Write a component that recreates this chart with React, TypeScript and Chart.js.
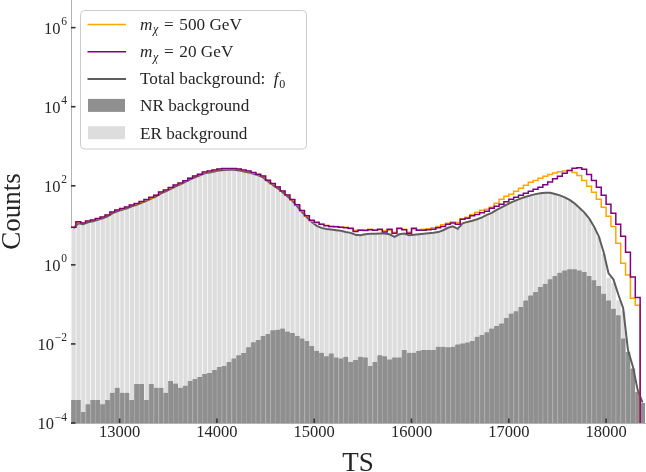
import { useEffect, useRef } from "react";
import { Chart, registerables } from "chart.js";

Chart.register(...registerables);

// Binning of the TS histograms and axis limits
const BIN_START = 12500;
const BIN_WIDTH = 50;
const X_MIN = 12500;
const X_MAX = 18400;
const Y_MIN = 1e-4;
const Y_MAX = 5e6;

const X_TICKS = [13000, 14000, 15000, 16000, 17000, 18000];
const Y_TICK_EXPONENTS = [-4, -2, 0, 2, 4, 6];

// Counts per bin (118 bins of width 50 starting at TS = 12500)
const totalBackground = [
  8.4, 11.2, 10.6, 11.9, 12.6, 13.8, 15.0, 16.9, 20.1, 22.6,
  24.6, 26.9, 30.2, 32.9, 37.0, 41.6, 47.2, 54.0, 64.4, 72.3,
  83.7, 96.8, 108.7, 125, 145, 163, 183, 206, 218, 231,
  245, 252, 255, 255, 245, 231, 218, 200, 183, 163,
  129, 105.6, 86.2, 68.2, 54.0, 41.6, 30.2, 21.7, 15.9, 12.1,
  9.7, 8.6, 8.1, 7.8, 7.5, 7.25, 6.8, 6.45, 5.75, 5.58,
  5.92, 6.1, 6.1, 6.2, 6.2, 5.92, 5.1, 5.92, 6.2, 5.58,
  5.75, 5.92, 6.1, 6.27, 6.45, 6.75, 7.5, 8.65, 9.4, 8.15,
  11.2, 12.2, 13.0, 14.2, 15.9, 18.4, 20.7, 24.6, 28.5, 32.9,
  38.1, 42.8, 48.1, 53.0, 57.3, 61.5, 64.4, 67.0, 66.2, 62.0,
  57.3, 51.0, 44.0, 35.9, 27.7, 21.3, 15.0, 9.4, 5.27, 2.08,
  0.61, 0.43, 0.18, 0.081, 0.007, 0.0027, 0.00068, 0.00033,
];

const erBackground = [
  8.4, 11.2, 10.6, 11.9, 12.6, 13.8, 15.0, 16.9, 20.1, 22.6,
  24.6, 26.9, 30.2, 32.9, 37.0, 41.6, 47.2, 54.0, 64.4, 72.3,
  83.7, 96.8, 108.7, 125, 145, 163, 183, 206, 218, 231,
  245, 252, 255, 255, 245, 231, 218, 200, 183, 163,
  129, 105.6, 86.2, 68.2, 54.0, 41.6, 30.2, 21.7, 15.9, 12.1,
  9.7, 8.6, 8.1, 7.8, 7.5, 7.25, 6.8, 6.45, 5.75, 5.58,
  5.92, 6.1, 6.1, 6.2, 6.2, 5.92, 5.1, 5.92, 6.2, 5.58,
  5.75, 5.92, 6.1, 6.27, 6.45, 6.75, 7.5, 8.65, 9.4, 8.15,
  11.2, 12.2, 13.0, 14.2, 15.9, 18.4, 20.7, 24.6, 28.5, 32.9,
  38.1, 42.8, 48.0, 52.9, 57.1, 61.3, 64.1, 66.7, 65.8, 61.5,
  56.7, 50.3, 43.2, 35.1, 27.0, 20.6, 14.5, 9.0, 4.98, 1.89,
  0.48, 0.35, 0.127, 0.067, 0.0007, 0.0003, 0.00006, 0.00001,
];

const nrBackground = [
  3.8e-4, 3.8e-4, 1.9e-4, 3.0e-4, 3.8e-4, 3.8e-4, 3.0e-4, 3.8e-4, 5.8e-4, 7.8e-4,
  5.8e-4, 5.8e-4, 3.8e-4, 9.7e-4, 9.7e-4, 3.8e-4, 9.7e-4, 7.8e-4, 7.8e-4, 5.8e-4,
  1.15e-3, 1.0e-3, 7.8e-4, 8.8e-4, 1.15e-3, 1.3e-3, 1.45e-3, 1.73e-3, 1.83e-3, 2.18e-3,
  2.6e-3, 2.75e-3, 3.5e-3, 4.3e-3, 5.2e-3, 5.9e-3, 8.3e-3, 1.11e-2, 1.25e-2, 1.58e-2,
  1.77e-2, 2.23e-2, 2.3e-2, 2.45e-2, 2.05e-2, 1.9e-2, 1.58e-2, 1.38e-2, 1.18e-2, 8.8e-3,
  6.7e-3, 5.96e-3, 4.9e-3, 5.75e-3, 4.55e-3, 4.3e-3, 4.75e-3, 3.5e-3, 3.9e-3, 4.75e-3,
  4.55e-3, 2.75e-3, 3.5e-3, 5.2e-3, 4.9e-3, 4.05e-3, 4.55e-3, 4.55e-3, 7.0e-3, 5.96e-3,
  5.96e-3, 6.7e-3, 7.0e-3, 7.0e-3, 7.0e-3, 8.5e-3, 8.5e-3, 8.3e-3, 8.5e-3, 9.7e-3,
  1.03e-2, 1.09e-2, 1.18e-2, 1.52e-2, 1.67e-2, 1.96e-2, 2.45e-2, 2.85e-2, 3.3e-2, 4.55e-2,
  5.85e-2, 6.7e-2, 8.6e-2, 0.126, 0.169, 0.205, 0.274, 0.333, 0.43, 0.52,
  0.635, 0.725, 0.77, 0.77, 0.725, 0.66, 0.52, 0.405, 0.29, 0.187,
  0.126, 0.078, 0.053, 0.0138, 0.0063, 0.0024, 6.2e-4, 3.2e-4,
];

// Background plus signal, 117 bins (signal histograms stop at TS = 18350)
const signal500 = [
  8.9, 11.8, 11.3, 12.6, 13.4, 14.6, 15.9, 17.9, 21.3, 24.0,
  26.1, 28.5, 32.0, 34.9, 39.2, 44.1, 50.0, 57.2, 68.3, 76.6,
  88.7, 103, 115, 133, 154, 173, 194, 218, 231, 245,
  260, 267, 270, 270, 260, 245, 231, 212, 194, 173,
  137, 112, 91.4, 72.3, 57.2, 44.1, 32.0, 23.0, 16.9, 12.9,
  11.5, 10.6, 10.0, 9.4, 9.4, 8.9, 8.9, 8.15, 7.5, 7.7,
  7.25, 7.9, 7.5, 7.7, 7.25, 7.5, 6.65, 8.15, 7.9, 6.65,
  7.9, 7.7, 7.9, 8.15, 8.65, 9.4, 10.3, 11.2, 12.2, 11.8,
  14.6, 15.9, 18.9, 21.3, 23.9, 25.4, 28.5, 35.9, 45.4, 54.0,
  60.7, 72.3, 86.2, 102.6, 122, 137, 154, 173, 194, 212,
  225, 238, 245, 218, 183, 137, 96.8, 68.2, 45.4, 28.5,
  16.9, 9.4, 3.5, 1.1, 0.55, 0.144, 0.095,
];

const signal20 = [
  9.0, 12.3, 11.4, 12.8, 13.7, 14.9, 16.3, 18.2, 21.8, 24.3,
  26.8, 29.0, 32.7, 35.4, 40.1, 44.8, 51.2, 58.0, 69.6, 78.0,
  90.5, 104, 117, 135, 156, 176, 197, 222, 235, 249,
  264, 272, 275, 274, 264, 249, 235, 216, 197, 176,
  139, 114, 93.5, 73.7, 58.5, 45.2, 32.9, 23.8, 17.5, 13.4,
  11.9, 10.6, 9.7, 9.4, 9.15, 8.9, 8.65, 8.4, 7.0, 7.5,
  7.5, 7.7, 7.5, 7.9, 6.8, 7.9, 6.27, 8.4, 7.7, 6.27,
  8.4, 7.5, 7.5, 7.7, 7.9, 8.65, 9.4, 10.6, 11.5, 10.6,
  14.2, 15.0, 17.4, 18.9, 20.7, 22.6, 26.9, 30.2, 33.9, 39.2,
  45.4, 51.0, 57.3, 64.4, 72.3, 81.3, 91.3, 105.6, 125, 150,
  173, 206, 245, 276, 284, 260, 194, 137, 91.3, 57.3,
  33.9, 20.1, 10.6, 5.27, 2.08, 0.49, 0.15,
];

const ORANGE = "#ffa500";
const PURPLE = "#800080";
const TOTAL_GRAY = "#5e5e5e";
const NR_FILL = "#8f8f8f";
const NR_EDGE = "#a4a4a4";
const ER_FILL = "#dddddd";
const ER_EDGE = "#f6f6f6";
const SPINE = "#b4b4b4";
const TEXT = "#262626";
const SERIF = '"Liberation Serif", "DejaVu Serif", serif';

const binEdge = (i: number) => BIN_START + BIN_WIDTH * i;
const binCenter = (i: number) => BIN_START + BIN_WIDTH * (i + 0.5);

// Outline of a step histogram: left edge of each bin, then a drop at the last edge
function stepOutline(values: number[]) {
  const pts = values.map((v, i) => ({ x: binEdge(i), y: v }));
  pts.push({ x: binEdge(values.length), y: Y_MIN });
  return pts;
}

const barPoints = (values: number[]) => values.map((v, i) => ({ x: binCenter(i), y: v }));

type Run = { text: string; italic?: boolean; sub?: boolean };
type LegendEntry = { kind: "line" | "box"; color: string; width?: number; runs: Run[] };

// math-style spacing around the equals sign
const EQ = "\u2004=\u2004";

const LEGEND_ENTRIES: LegendEntry[] = [
  { kind: "line", color: ORANGE, width: 1.5, runs: [{ text: "m", italic: true }, { text: "χ", italic: true, sub: true }, { text: `${EQ}500 GeV` }] },
  { kind: "line", color: PURPLE, width: 1.5, runs: [{ text: "m", italic: true }, { text: "χ", italic: true, sub: true }, { text: `${EQ}20 GeV` }] },
  { kind: "line", color: TOTAL_GRAY, width: 2, runs: [{ text: "Total background:  " }, { text: "f", italic: true }, { text: "0", sub: true }] },
  { kind: "box", color: NR_FILL, runs: [{ text: "NR background" }] },
  { kind: "box", color: ER_FILL, runs: [{ text: "ER background" }] },
];

function drawRuns(ctx: CanvasRenderingContext2D, runs: Run[], x: number, baseline: number, size: number) {
  let cx = x;
  for (const r of runs) {
    const fs = r.sub ? size * 0.7 : size;
    ctx.font = `${r.italic ? "italic " : ""}${fs}px ${SERIF}`;
    ctx.fillText(r.text, cx, baseline + (r.sub ? size * 0.22 : 0));
    cx += ctx.measureText(r.text).width + (r.italic && !r.sub ? 0.5 : 0);
  }
}

function roundedRect(ctx: CanvasRenderingContext2D, x: number, y: number, w: number, h: number, r: number) {
  ctx.beginPath();
  ctx.moveTo(x + r, y);
  ctx.lineTo(x + w - r, y);
  ctx.arcTo(x + w, y, x + w, y + r, r);
  ctx.lineTo(x + w, y + h - r);
  ctx.arcTo(x + w, y + h, x + w - r, y + h, r);
  ctx.lineTo(x + r, y + h);
  ctx.arcTo(x, y + h, x, y + h - r, r);
  ctx.lineTo(x, y + r);
  ctx.arcTo(x, y, x + r, y, r);
  ctx.closePath();
}

const decorations = {
  id: "histDecorations",
  afterDraw(chart: any) {
    const { ctx, chartArea, scales } = chart;
    const xs = scales.x;
    const ys = scales.y;
    ctx.save();

    // inward tick marks
    ctx.strokeStyle = "#333333";
    ctx.lineWidth = 1.6;
    for (const t of X_TICKS) {
      const px = xs.getPixelForValue(t);
      ctx.beginPath();
      ctx.moveTo(px, chartArea.bottom);
      ctx.lineTo(px, chartArea.bottom - 4.5);
      ctx.stroke();
    }
    for (const e of Y_TICK_EXPONENTS) {
      const py = ys.getPixelForValue(10 ** e);
      ctx.beginPath();
      ctx.moveTo(chartArea.left, py);
      ctx.lineTo(chartArea.left + 4.5, py);
      ctx.stroke();
    }

    // y tick labels as powers of ten
    ctx.fillStyle = TEXT;
    ctx.textAlign = "left";
    ctx.textBaseline = "alphabetic";
    const baseSize = 16.5;
    const expSize = 11.5;
    const right = chartArea.left - 4;
    for (const e of Y_TICK_EXPONENTS) {
      const py = ys.getPixelForValue(10 ** e);
      const expText = e < 0 ? `\u2212${-e}` : String(e);
      ctx.font = `${expSize}px ${SERIF}`;
      const ew = ctx.measureText(expText).width;
      ctx.font = `${baseSize}px ${SERIF}`;
      const bw = ctx.measureText("10").width;
      ctx.fillText("10", right - ew - bw - 0.8, py + 6);
      ctx.font = `${expSize}px ${SERIF}`;
      ctx.fillText(expText, right - ew, py - 2.5);
    }

    // axis titles
    ctx.font = `27px ${SERIF}`;
    ctx.textAlign = "center";
    ctx.fillText("TS", (chartArea.left + chartArea.right) / 2, 471);
    ctx.save();
    ctx.translate(20, (chartArea.top + chartArea.bottom) / 2);
    ctx.rotate(-Math.PI / 2);
    ctx.fillText("Counts", 0, 0);
    ctx.restore();

    // legend
    roundedRect(ctx, 80.5, 10.5, 226, 138.5, 4);
    ctx.fillStyle = "rgba(255,255,255,0.85)";
    ctx.fill();
    ctx.strokeStyle = "#cccccc";
    ctx.lineWidth = 1;
    ctx.stroke();
    ctx.textAlign = "left";
    LEGEND_ENTRIES.forEach((entry, k) => {
      const baseline = 29.5 + 27.3 * k;
      if (entry.kind === "line") {
        ctx.strokeStyle = entry.color;
        ctx.lineWidth = entry.width ?? 1.5;
        ctx.beginPath();
        ctx.moveTo(87.5, baseline - 5);
        ctx.lineTo(126, baseline - 5);
        ctx.stroke();
      } else {
        ctx.fillStyle = entry.color;
        ctx.fillRect(88, baseline - 12.5, 37, 13);
      }
      ctx.fillStyle = TEXT;
      drawRuns(ctx, entry.runs, 140, baseline, 17.2);
    });

    ctx.restore();
  },
};

export default function App() {
  const canvasRef = useRef<HTMLCanvasElement | null>(null);

  useEffect(() => {
    const canvas = canvasRef.current;
    if (!canvas) return;
    const chart = new Chart(canvas, {
      type: "bar",
      data: {
        datasets: [
          {
            type: "line",
            label: "m_χ = 20 GeV",
            data: stepOutline(signal20),
            borderColor: PURPLE,
            borderWidth: 1.5,
            stepped: "before",
            pointRadius: 0,
            fill: false,
            order: 0,
          },
          {
            type: "line",
            label: "m_χ = 500 GeV",
            data: stepOutline(signal500),
            borderColor: ORANGE,
            borderWidth: 1.5,
            stepped: "before",
            pointRadius: 0,
            fill: false,
            order: 1,
          },
          {
            type: "line",
            label: "Total background: f_0",
            data: barPoints(totalBackground),
            borderColor: TOTAL_GRAY,
            borderWidth: 2,
            tension: 0,
            pointRadius: 0,
            fill: false,
            order: 2,
          },
          {
            type: "bar",
            label: "NR background",
            data: barPoints(nrBackground),
            backgroundColor: NR_FILL,
            borderColor: NR_EDGE,
            borderWidth: { left: 1, right: 0, top: 0, bottom: 0 },
            borderSkipped: false,
            grouped: false,
            barPercentage: 1,
            categoryPercentage: 1,
            order: 3,
          },
          {
            type: "bar",
            label: "ER background",
            data: barPoints(erBackground),
            backgroundColor: ER_FILL,
            borderColor: ER_EDGE,
            borderWidth: { left: 1, right: 0, top: 0, bottom: 0 },
            borderSkipped: false,
            grouped: false,
            barPercentage: 1,
            categoryPercentage: 1,
            order: 4,
          },
        ] as any,
      },
      options: {
        animation: false,
        responsive: false,
        maintainAspectRatio: false,
        devicePixelRatio: 1,
        layout: { padding: { left: 0, right: 1, top: 0, bottom: 0 } },
        plugins: { legend: { display: false }, tooltip: { enabled: false } },
        scales: {
          x: {
            type: "linear",
            min: X_MIN,
            max: X_MAX,
            offset: false,
            grid: { display: false, drawTicks: false },
            border: { display: true, color: SPINE, width: 1 },
            ticks: {
              color: TEXT,
              font: { family: SERIF, size: 16.5 },
              padding: 0,
              maxRotation: 0,
              autoSkip: false,
              callback: (v: any) => String(v),
            },
            afterBuildTicks: (s: any) => {
              s.ticks = X_TICKS.map((v) => ({ value: v }));
            },
            afterFit: (s: any) => {
              s.height = 49;
            },
          },
          y: {
            type: "logarithmic",
            min: Y_MIN,
            max: Y_MAX,
            grid: { display: false, drawTicks: false },
            border: { display: true, color: SPINE, width: 1 },
            ticks: { display: false },
            afterBuildTicks: (s: any) => {
              s.ticks = Y_TICK_EXPONENTS.map((e) => ({ value: 10 ** e }));
            },
            afterFit: (s: any) => {
              s.width = 71;
            },
          },
        } as any,
      },
      plugins: [decorations],
    });
    return () => chart.destroy();
  }, []);

  return (
    <div style={{ position: "fixed", left: 0, top: 0, width: 646, height: 472, background: "#ffffff" }}>
      <canvas ref={canvasRef} width={646} height={472} style={{ display: "block", width: 646, height: 472 }} />
    </div>
  );
}
